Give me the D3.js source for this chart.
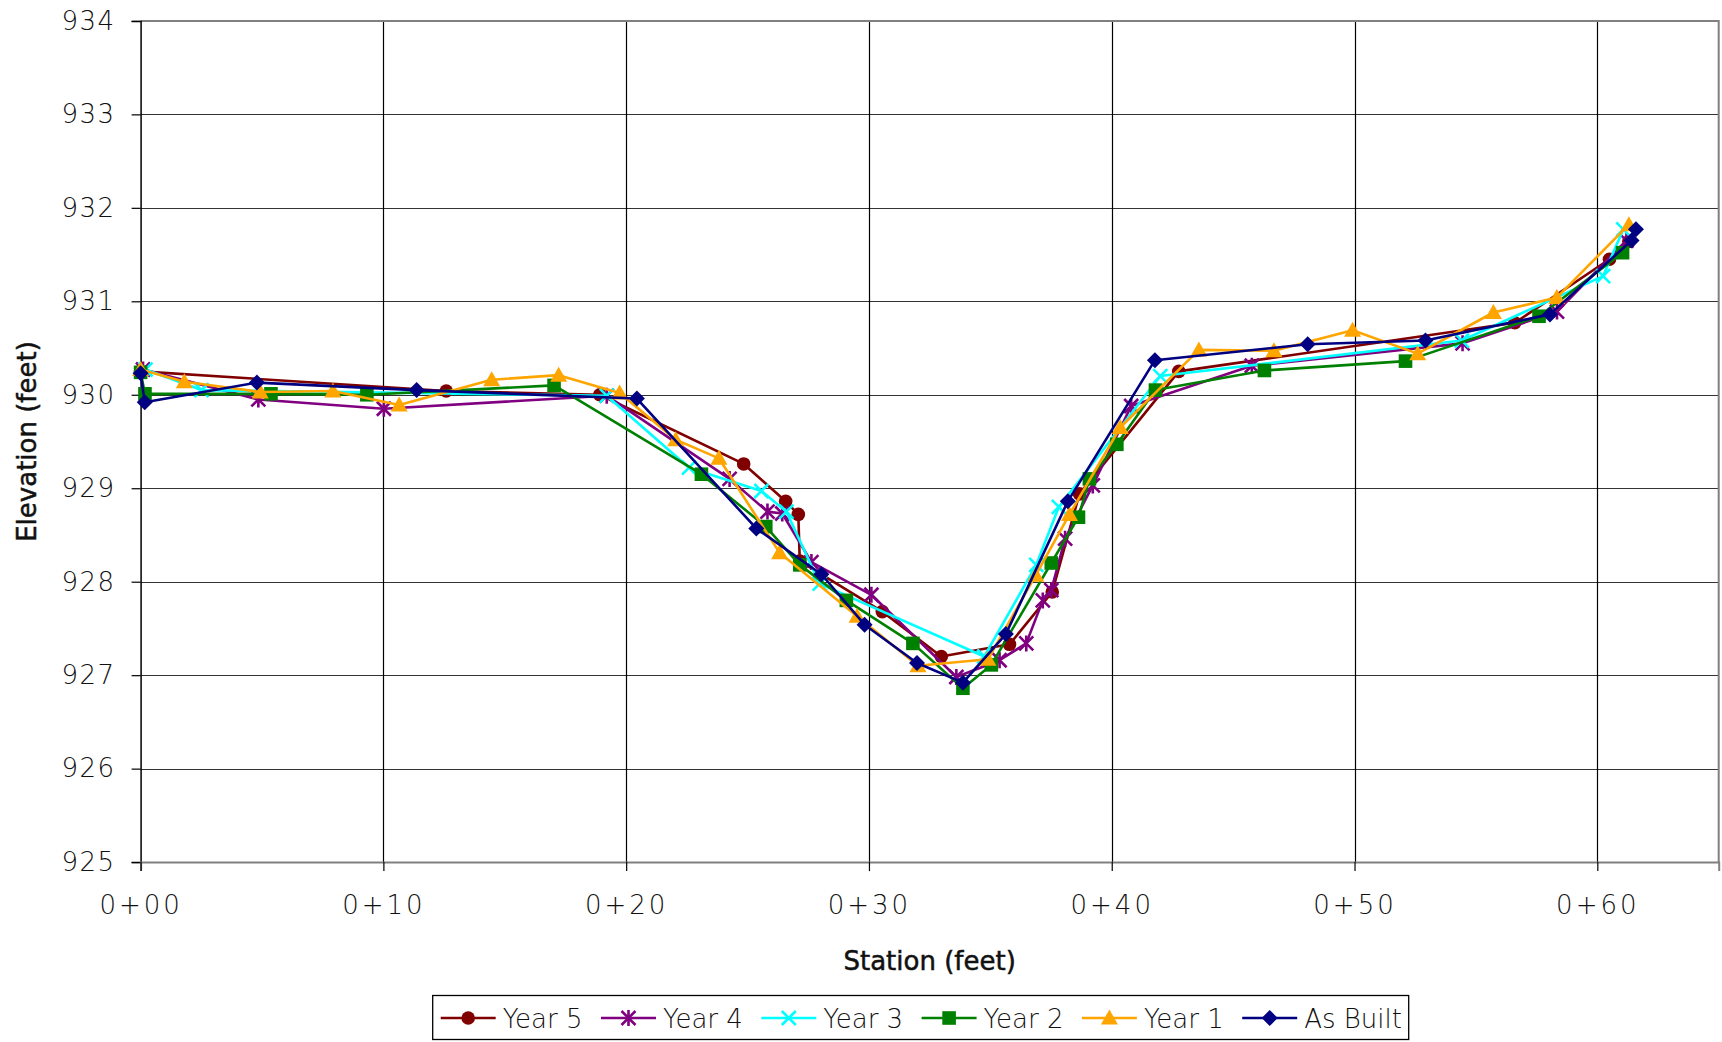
<!DOCTYPE html>
<html>
<head>
<meta charset="utf-8">
<script src="https://cdn.jsdelivr.net/npm/d3@7"></script>
<style>
  html, body { margin: 0; padding: 0; background: #fff; }
  svg { display: block; }
  text { font-family: "DejaVu Sans", "Noto Sans", sans-serif; fill: #111; }
</style>
</head>
<body>
<svg id="chart" width="1722" height="1042"></svg>
<script>
// ---------------- DATA ----------------
const seriesNames = ["Year 5", "Year 4", "Year 3", "Year 2", "Year 1", "As Built"];

const year5 = [[0,930.25],[12.59,930.04],[18.91,930.0],[24.84,929.26],[26.57,928.86],[27.09,928.72],[27.15,928.22],[30.55,927.68],[32.98,927.2],[35.79,927.33],[37.55,927.89],[38.67,928.94],[42.76,930.25],[56.6,930.77],[60.5,931.45],[61.3,931.64]];
const year4 = [[0.1,930.27],[4.85,929.95],[10.02,929.85],[19.2,929.99],[24.26,929.1],[25.82,928.75],[26.43,928.73],[27.63,928.21],[30.1,927.86],[33.6,926.98],[35.38,927.16],[36.48,927.34],[37.16,927.8],[37.51,927.91],[38.08,928.46],[39.22,929.03],[40.8,929.88],[45.77,930.31],[54.45,930.55],[58.34,930.89],[61.2,931.65]];
const year3 = [[0.2,930.27],[2.51,930.05],[19.2,929.99],[22.59,929.22],[25.57,928.97],[26.6,928.75],[27.97,927.98],[34.75,927.2],[36.89,928.18],[37.82,928.8],[42.0,930.2],[54.42,930.58],[60.24,931.27],[61.07,931.77]];
const year2 = [[0,930.24],[0.18,930.01],[5.37,930.01],[9.32,930.0],[17.03,930.1],[23.1,929.15],[25.75,928.59],[27.15,928.18],[29.07,927.8],[31.81,927.34],[33.87,926.86],[35.04,927.11],[37.51,928.2],[38.63,928.69],[39.08,929.1],[40.21,929.47],[41.8,930.05],[46.29,930.26],[52.1,930.36],[57.6,930.84],[61.04,931.52]];
const year1 = [[0,930.27],[1.8,930.14],[4.93,930.03],[7.92,930.04],[10.65,929.89],[14.46,930.16],[17.22,930.21],[19.73,930.02],[22.04,929.52],[23.82,929.32],[26.32,928.31],[29.51,927.63],[32.02,927.1],[34.9,927.17],[36.87,928.07],[38.26,928.72],[40.35,929.65],[43.59,930.48],[46.68,930.47],[49.92,930.69],[52.6,930.44],[55.72,930.88],[58.33,931.04],[61.3,931.82]];
const asBuilt = [[0,930.23],[0.17,929.92],[4.79,930.13],[11.37,930.05],[20.44,929.96],[25.36,928.57],[28.04,928.08],[29.82,927.54],[31.98,927.13],[33.87,926.92],[35.64,927.44],[38.19,928.86],[41.78,930.37],[48.07,930.54],[52.92,930.58],[58.05,930.86],[61.41,931.65],[61.59,931.77]];

const xTicks = [0, 10, 20, 30, 40, 50, 60];
const xTickLabels = ["0+00", "0+10", "0+20", "0+30", "0+40", "0+50", "0+60"];
const yTicks = [925, 926, 927, 928, 929, 930, 931, 932, 933, 934];
const xTitle = "Station (feet)";
const yTitle = "Elevation (feet)";

// ---------------- STYLE ----------------
const colors = ["#800000", "#800080", "#00FFFF", "#008000", "#FFA500", "#000080"];
const markers = ["circle", "asterisk", "x", "square", "triangle", "diamond"];
const allData = [year5, year4, year3, year2, year1, asBuilt];

const svg = d3.select("#chart");
const pLeft = 140.6, pRight = 1718.7, pTop = 20.9, pBottom = 862.1;
const x = d3.scaleLinear().domain([0, 65]).range([pLeft, pRight]);
const y = d3.scaleLinear().domain([925, 934]).range([pBottom, pTop]);

// Gridlines
const g = svg.append("g");
g.selectAll("line.hgrid").data(yTicks.filter(v => v > 925 && v < 934)).enter()
  .append("line").attr("x1", pLeft).attr("x2", pRight)
  .attr("y1", d => Math.round(y(d)) + 0.5).attr("y2", d => Math.round(y(d)) + 0.5)
  .attr("stroke", "#333").attr("stroke-width", 1.2);
g.selectAll("line.vgrid").data(xTicks.filter(v => v > 0)).enter()
  .append("line").attr("y1", pTop).attr("y2", pBottom)
  .attr("x1", d => Math.round(x(d)) + 0.5).attr("x2", d => Math.round(x(d)) + 0.5)
  .attr("stroke", "#000").attr("stroke-width", 1.2);

// plot border (top, right)
g.append("path")
  .attr("d", `M${pLeft},${pTop}H${pRight}V${pBottom}`)
  .attr("fill", "none").attr("stroke", "#808080").attr("stroke-width", 2);

// Axes
const yAxis = d3.axisLeft(y).tickValues(yTicks).tickSize(9).tickPadding(16).tickFormat(d3.format("d"));
const yg = svg.append("g").attr("transform", `translate(${pLeft},0)`).call(yAxis);
yg.select(".domain").attr("stroke", "#000").attr("stroke-width", 1.5);
yg.selectAll(".tick line").attr("stroke", "#000").attr("stroke-width", 1.2);
yg.selectAll(".tick text").attr("font-size", 26).attr("font-weight", 200)
  .attr("letter-spacing", 1.5).attr("fill", "#111").style("font-family", '"DejaVu Sans", sans-serif');

const xAxis = d3.axisBottom(x).tickValues(xTicks).tickSize(9).tickPadding(24)
  .tickFormat((d, i) => xTickLabels[i]);
const xg = svg.append("g").attr("transform", `translate(0,${pBottom})`).call(xAxis);
xg.select(".domain").attr("stroke", "#808080").attr("stroke-width", 2);
xg.selectAll(".tick line").attr("stroke", "#000").attr("stroke-width", 1.2);
xg.selectAll(".tick text").attr("font-size", 26).attr("font-weight", 200)
  .attr("letter-spacing", 3).attr("fill", "#111").style("font-family", '"DejaVu Sans", sans-serif');

// Titles
svg.append("text").attr("x", (pLeft + pRight) / 2).attr("y", 970)
  .attr("text-anchor", "middle").attr("font-size", 26).attr("stroke", "#111").attr("stroke-width", 0.5)
  .text(xTitle);
svg.append("text").attr("transform", `translate(36,${(pTop + pBottom) / 2}) rotate(-90)`)
  .attr("text-anchor", "middle").attr("font-size", 26).attr("stroke", "#111").attr("stroke-width", 0.5)
  .text(yTitle);

// Marker drawing
function drawMarker(sel, type, color) {
  const s = 7;
  if (type === "circle") {
    sel.append("circle").attr("r", 6.8).attr("fill", color);
  } else if (type === "square") {
    sel.append("rect").attr("x", -6.8).attr("y", -6.8).attr("width", 13.6).attr("height", 13.6).attr("fill", color);
  } else if (type === "triangle") {
    sel.append("path").attr("d", "M0,-8.5L8.5,6.5L-8.5,6.5Z").attr("fill", color);
  } else if (type === "diamond") {
    sel.append("path").attr("d", "M0,-8L8,0L0,8L-8,0Z").attr("fill", color);
  } else if (type === "x") {
    sel.append("path").attr("d", `M${-s},${-s}L${s},${s}M${-s},${s}L${s},${-s}`)
      .attr("stroke", color).attr("stroke-width", 2.6).attr("fill", "none");
  } else if (type === "asterisk") {
    sel.append("path").attr("d", `M${-s},${-s}L${s},${s}M${-s},${s}L${s},${-s}M0,${-s - 1}L0,${s + 1}`)
      .attr("stroke", color).attr("stroke-width", 2.6).attr("fill", "none");
  }
}

const line = d3.line().x(d => x(d[0])).y(d => y(d[1]));

allData.forEach((data, i) => {
  const sg = svg.append("g");
  sg.append("path").datum(data).attr("d", line)
    .attr("fill", "none").attr("stroke", colors[i]).attr("stroke-width", 2.6)
    .attr("stroke-linejoin", "round");
  sg.selectAll("g.m").data(data).enter().append("g")
    .attr("transform", d => `translate(${x(d[0])},${y(d[1])})`)
    .each(function () { drawMarker(d3.select(this), markers[i], colors[i]); });
});

// Legend
const lg = svg.append("g");
lg.append("rect").attr("x", 432.7).attr("y", 995.5).attr("width", 976).attr("height", 44)
  .attr("fill", "#fff").attr("stroke", "#000").attr("stroke-width", 1.3);
seriesNames.forEach((name, i) => {
  const x0 = 440.7 + i * 160.3;
  const cy = 1018;
  lg.append("line").attr("x1", x0).attr("x2", x0 + 55).attr("y1", cy).attr("y2", cy)
    .attr("stroke", colors[i]).attr("stroke-width", 2.6);
  const mg = lg.append("g").attr("transform", `translate(${x0 + 27.5},${cy})`);
  drawMarker(mg, markers[i], colors[i]);
  lg.append("text").attr("x", x0 + 62).attr("y", cy + 9.5)
    .attr("font-size", 26).attr("font-weight", 200).text(name);
});
</script>
</body>
</html>
